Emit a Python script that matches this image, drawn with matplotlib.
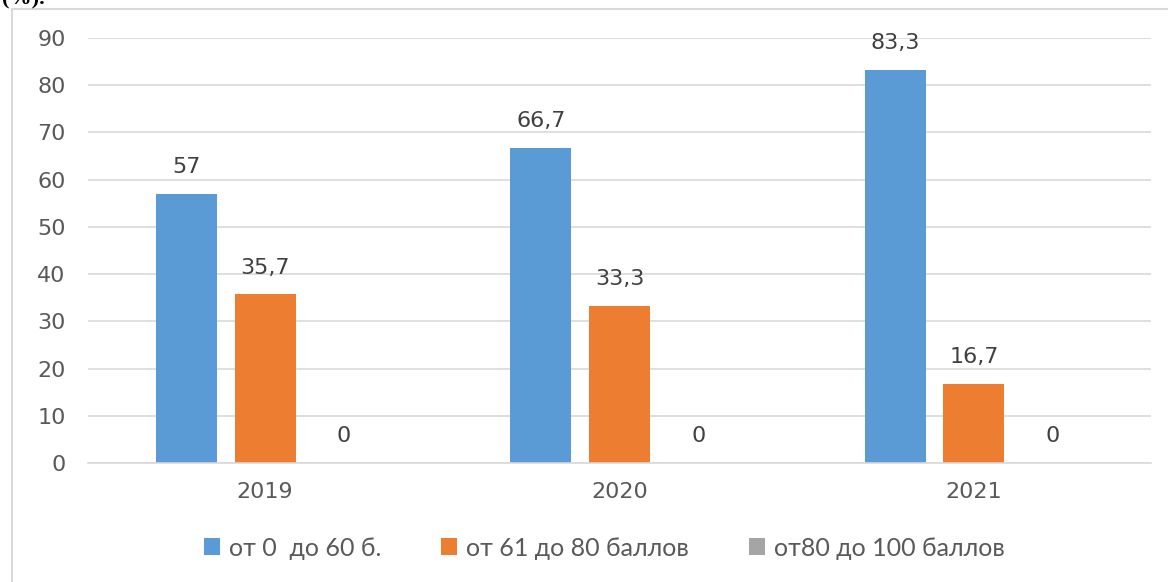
import numpy as np
import matplotlib.pyplot as plt
from matplotlib.patches import Rectangle

# data
years = ['2019', '2020', '2021']
low = [57, 66.7, 83.3]
mid = [35.7, 33.3, 16.7]
high = [0, 0, 0]
labels = ['от 0  до 60 б.', 'от 61 до 80 баллов', 'от80 до 100 баллов']
colors = ['#5B9BD5', '#ED7D31', '#A5A5A5']

W, H = 1168, 582
fig = plt.figure(figsize=(W / 100, H / 100), dpi=100)
ax = fig.add_axes([88 / W, 1 - 463 / H, (1151 - 88) / W, (463 - 38) / H])

x = np.arange(len(years))
width = 0.173
step = 0.222

series = [low, mid, high]
for k, vals in enumerate(series):
    pos = x + (k - 1) * step
    ax.bar(pos, vals, width, color=colors[k], label=labels[k], zorder=2)
    for xp, v in zip(pos, vals):
        txt = ('%g' % v).replace('.', ',')
        ax.annotate(txt, (xp, v), xytext=(0, 12), textcoords='offset points',
                    ha='center', va='bottom', fontsize=16, color='#404040',
                    family='DejaVu Sans')

ax.set_xlim(-0.5, 2.5)
ax.set_ylim(0, 90)
ax.set_yticks(range(0, 91, 10))
ax.set_xticks(x)
ax.set_xticklabels(years)
ax.grid(axis='y', color='#d9d9d9', linewidth=1.2, zorder=0)
for s in ['top', 'right', 'left']:
    ax.spines[s].set_visible(False)
ax.spines['bottom'].set_color('#d9d9d9')
ax.spines['bottom'].set_linewidth(1.2)
ax.tick_params(axis='both', length=0, labelsize=16, labelcolor='#595959')
ax.tick_params(axis='y', pad=16)
ax.tick_params(axis='x', pad=14)

leg = fig.legend(loc='center', bbox_to_anchor=(604 / W, 1 - 548 / H), ncol=3,
                 frameon=False, handlelength=0.65, handleheight=0.65,
                 handletextpad=0.35, columnspacing=2.4,
                 prop={'family': 'Lato', 'size': 18})
for t in leg.get_texts():
    t.set_color('#595959')

# chart border (cut by the image edge)
fig.patches.append(Rectangle((12 / W, -0.1), 1.2, 1 - 9 / H + 0.1,
                             transform=fig.transFigure, fill=False,
                             edgecolor='#d9d9d9', linewidth=1.5))

# caption text cut by the top edge
fig.text(2 / W, 1 - 4 / H, '(%).', family='Liberation Serif', weight='bold',
         fontsize=16, va='baseline', ha='left', color='black')

fig.savefig('out.png', dpi=100)
